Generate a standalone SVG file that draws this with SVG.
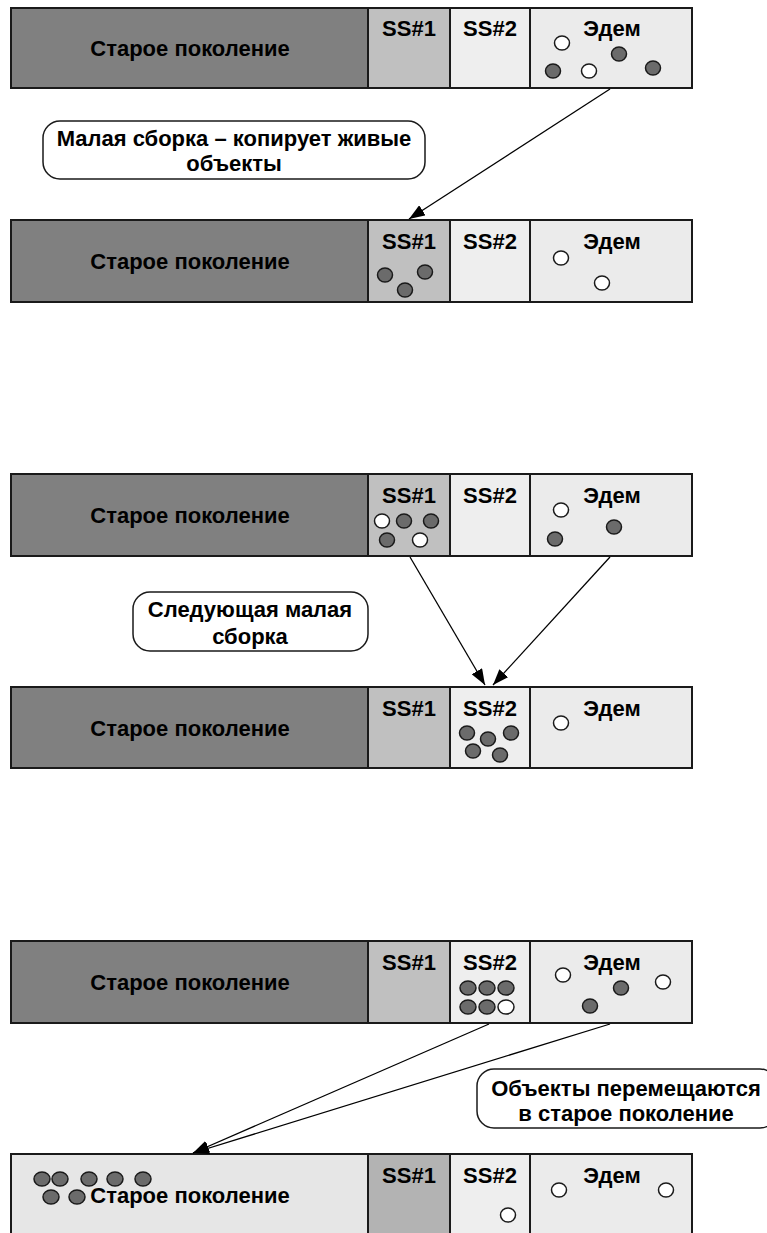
<svg xmlns="http://www.w3.org/2000/svg" width="767" height="1233" viewBox="0 0 767 1233">
<style>
.bg{fill:#ffffff}
.old{fill:#808080;stroke:#1a1a1a;stroke-width:2}
.oldl{fill:#e6e6e6;stroke:#1a1a1a;stroke-width:2}
.s1{fill:#c0c0c0;stroke:#1a1a1a;stroke-width:2}
.s1d{fill:#b3b3b3;stroke:#1a1a1a;stroke-width:2}
.s2{fill:#eeeeee;stroke:#1a1a1a;stroke-width:2}
.ed{fill:#ebebeb;stroke:#1a1a1a;stroke-width:2}
.t{font-family:"Liberation Sans",Arial,sans-serif;font-weight:bold;font-size:22px;fill:#000;text-anchor:middle}
.d{fill:#6b6b6b;stroke:#1a1a1a;stroke-width:1.5}
.w{fill:#ffffff;stroke:#1a1a1a;stroke-width:1.5}
.lbl{fill:#ffffff;stroke:#1a1a1a;stroke-width:1.5}
.c{stroke:#000;stroke-width:1.3;fill:none;marker-end:url(#ah)}
</style>
<defs>
<marker id="ah" markerUnits="userSpaceOnUse" markerWidth="17" markerHeight="12" refX="16" refY="6" orient="auto">
<path d="M0,0 L16,6 L0,12 z" fill="#000"/>
</marker>
</defs>
<rect class="bg" x="0" y="0" width="767" height="1233"/>

<g id="panel1">
<rect class="old" x="11" y="8" width="357" height="80"/>
<rect class="s1" x="368" y="8" width="82" height="80"/>
<rect class="s2" x="450" y="8" width="80" height="80"/>
<rect class="ed" x="530" y="8" width="162" height="80"/>
<text class="t" x="190" y="56">Старое поколение</text>
<text class="t" x="409" y="36">SS#1</text>
<text class="t" x="490" y="36">SS#2</text>
<text class="t" x="612" y="36">Эдем</text>
<ellipse class="w" cx="562" cy="43" rx="7.5" ry="7"/>
<ellipse class="d" cx="619" cy="54" rx="7.5" ry="7"/>
<ellipse class="d" cx="553" cy="71" rx="7.5" ry="7"/>
<ellipse class="w" cx="589" cy="71" rx="7.5" ry="7"/>
<ellipse class="d" cx="653" cy="68" rx="7.5" ry="7"/>
</g>

<g id="label1">
<rect class="lbl" x="43" y="121" width="382" height="58" rx="17" ry="17"/>
<text class="t" x="234" y="146">Малая сборка – копирует живые</text>
<text class="t" x="234" y="171">объекты</text>
</g>

<g id="panel2">
<rect class="old" x="11" y="220" width="357" height="82"/>
<rect class="s1" x="368" y="220" width="82" height="82"/>
<rect class="s2" x="450" y="220" width="80" height="82"/>
<rect class="ed" x="530" y="220" width="162" height="82"/>
<text class="t" x="190" y="269">Старое поколение</text>
<text class="t" x="409" y="249">SS#1</text>
<text class="t" x="490" y="249">SS#2</text>
<text class="t" x="612" y="249">Эдем</text>
<ellipse class="d" cx="385" cy="275" rx="7.5" ry="7"/>
<ellipse class="d" cx="425" cy="272" rx="7.5" ry="7"/>
<ellipse class="d" cx="405" cy="290" rx="7.5" ry="7"/>
<ellipse class="w" cx="561" cy="258" rx="7.5" ry="7"/>
<ellipse class="w" cx="602" cy="283" rx="7.5" ry="7"/>
</g>

<g id="panel3">
<rect class="old" x="11" y="474" width="357" height="82"/>
<rect class="s1" x="368" y="474" width="82" height="82"/>
<rect class="s2" x="450" y="474" width="80" height="82"/>
<rect class="ed" x="530" y="474" width="162" height="82"/>
<text class="t" x="190" y="523">Старое поколение</text>
<text class="t" x="409" y="503">SS#1</text>
<text class="t" x="490" y="503">SS#2</text>
<text class="t" x="612" y="503">Эдем</text>
<ellipse class="w" cx="382" cy="521" rx="7.5" ry="7"/>
<ellipse class="d" cx="404" cy="521" rx="7.5" ry="7"/>
<ellipse class="d" cx="431" cy="521" rx="7.5" ry="7"/>
<ellipse class="d" cx="387" cy="540" rx="7.5" ry="7"/>
<ellipse class="w" cx="420" cy="540" rx="7.5" ry="7"/>
<ellipse class="w" cx="561" cy="510" rx="7.5" ry="7"/>
<ellipse class="d" cx="614" cy="527" rx="7.5" ry="7"/>
<ellipse class="d" cx="555" cy="539" rx="7.5" ry="7"/>
</g>

<g id="label2">
<rect class="lbl" x="133" y="592" width="235" height="59" rx="17" ry="17"/>
<text class="t" x="250" y="617">Следующая малая</text>
<text class="t" x="250" y="644">сборка</text>
</g>

<g id="panel4">
<rect class="old" x="11" y="687" width="357" height="81"/>
<rect class="s1" x="368" y="687" width="82" height="81"/>
<rect class="s2" x="450" y="687" width="80" height="81"/>
<rect class="ed" x="530" y="687" width="162" height="81"/>
<text class="t" x="190" y="736">Старое поколение</text>
<text class="t" x="409" y="716">SS#1</text>
<text class="t" x="490" y="716">SS#2</text>
<text class="t" x="612" y="716">Эдем</text>
<ellipse class="d" cx="467" cy="733" rx="7.5" ry="7"/>
<ellipse class="d" cx="488" cy="739" rx="7.5" ry="7"/>
<ellipse class="d" cx="511" cy="733" rx="7.5" ry="7"/>
<ellipse class="d" cx="473" cy="751" rx="7.5" ry="7"/>
<ellipse class="d" cx="500" cy="755" rx="7.5" ry="7"/>
<ellipse class="w" cx="561" cy="723" rx="7.5" ry="7"/>
</g>

<g id="panel5">
<rect class="old" x="11" y="941" width="357" height="82"/>
<rect class="s1" x="368" y="941" width="82" height="82"/>
<rect class="s2" x="450" y="941" width="80" height="82"/>
<rect class="ed" x="530" y="941" width="162" height="82"/>
<text class="t" x="190" y="990">Старое поколение</text>
<text class="t" x="409" y="970">SS#1</text>
<text class="t" x="490" y="970">SS#2</text>
<text class="t" x="612" y="970">Эдем</text>
<ellipse class="d" cx="468" cy="988" rx="8" ry="7"/>
<ellipse class="d" cx="487" cy="988" rx="8" ry="7"/>
<ellipse class="d" cx="506" cy="988" rx="8" ry="7"/>
<ellipse class="d" cx="468" cy="1007" rx="8" ry="7"/>
<ellipse class="d" cx="487" cy="1007" rx="8" ry="7"/>
<ellipse class="w" cx="506" cy="1007" rx="8" ry="7"/>
<ellipse class="w" cx="563" cy="975" rx="7.5" ry="7"/>
<ellipse class="d" cx="621" cy="988" rx="7.5" ry="7"/>
<ellipse class="w" cx="663" cy="982" rx="7.5" ry="7"/>
<ellipse class="d" cx="590" cy="1006" rx="7.5" ry="7"/>
</g>

<g id="label3">
<rect class="lbl" x="477" y="1069" width="300" height="59" rx="17" ry="17"/>
<text class="t" x="626" y="1096">Объекты перемещаются</text>
<text class="t" x="626" y="1121">в старое поколение</text>
</g>

<g id="panel6">
<rect class="oldl" x="11" y="1154" width="357" height="90"/>
<rect class="s1d" x="368" y="1154" width="82" height="90"/>
<rect class="s2" x="450" y="1154" width="80" height="90"/>
<rect class="ed" x="530" y="1154" width="162" height="90"/>
<text class="t" x="190" y="1203">Старое поколение</text>
<text class="t" x="409" y="1183">SS#1</text>
<text class="t" x="490" y="1183">SS#2</text>
<text class="t" x="612" y="1183">Эдем</text>
<ellipse class="d" cx="42" cy="1179" rx="8" ry="7"/>
<ellipse class="d" cx="60" cy="1179" rx="8" ry="7"/>
<ellipse class="d" cx="89" cy="1179" rx="8" ry="7"/>
<ellipse class="d" cx="115" cy="1179" rx="8" ry="7"/>
<ellipse class="d" cx="143" cy="1179" rx="8" ry="7"/>
<ellipse class="d" cx="51" cy="1197" rx="8" ry="7"/>
<ellipse class="d" cx="77" cy="1197" rx="8" ry="7"/>
<ellipse class="w" cx="508" cy="1215" rx="7.5" ry="7"/>
<ellipse class="w" cx="559" cy="1190" rx="7.5" ry="7"/>
<ellipse class="w" cx="666" cy="1190" rx="7.5" ry="7"/>
</g>

<g id="connectors">
<line class="c" x1="610" y1="89" x2="409" y2="219"/>
<line class="c" x1="410" y1="557" x2="485" y2="685"/>
<line class="c" x1="610" y1="557" x2="493" y2="685"/>
<line class="c" x1="489" y1="1024" x2="193" y2="1153"/>
<line class="c" x1="610" y1="1024" x2="193" y2="1153"/>
</g>
</svg>
